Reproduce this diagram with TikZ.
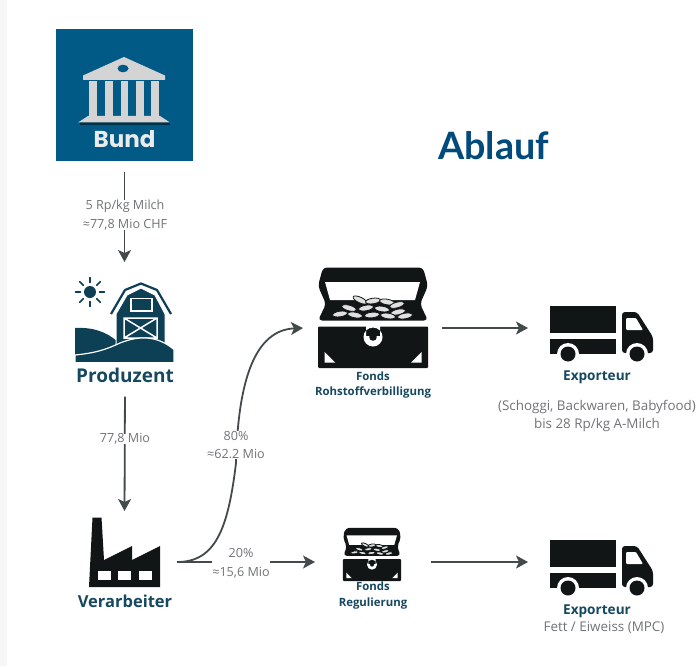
\documentclass[tikz,border=0pt]{standalone}
\usepackage{fontspec}
\setmainfont{Open Sans}
\newfontfamily\titlefont{Lato}
\newfontfamily\bundfont{Poppins}
\usetikzlibrary{arrows.meta}
\definecolor{bundblue}{HTML}{005A85}
\definecolor{titleblue}{HTML}{004A7C}
\definecolor{barndark}{HTML}{0D3F55}
\definecolor{iconblack}{HTML}{111516}
\definecolor{labelteal}{HTML}{16485F}
\definecolor{flowgrey}{HTML}{444A4C}
\definecolor{textgrey}{HTML}{707476}
\tikzset{
  x=1pt,y=-1pt,
  flow/.style={draw=flowgrey,line width=1.8pt,-{Stealth[length=12pt,width=13pt,inset=3pt]}},
  iconbox/.style={inner sep=0pt,outer sep=0pt},
  actor/.style={font=\bfseries\fontsize{16.5}{18}\selectfont,text=labelteal,inner sep=0pt},
  exportname/.style={font=\bfseries\fontsize{13.6}{15}\selectfont,text=labelteal,inner sep=0pt},
  fondsname/.style={font=\bfseries\fontsize{11.4}{15.5}\selectfont,text=labelteal,align=center,inner sep=0pt},
  flowlabel/.style={font=\fontsize{12.6}{18.5}\selectfont,text=textgrey,align=center,fill=white,inner sep=0pt},
  note/.style={font=\fontsize{13.4}{18}\selectfont,text=textgrey,align=center,inner sep=0pt},
  chesticon/.pic={
    \fill[iconblack,rounded corners=4pt] (-55,-31) -- (-50,-49.5) -- (50,-49.5) -- (55,-31) -- (47,-13) -- (55,3.5) -- (-55,3.5) -- (-47,-13) -- cycle;
    \fill[white] (-48,-35) -- (47,-35) -- (42,-17) -- (-43,-17) -- cycle;
    \foreach \cx/\cy/\rr in {-13/-17/-25,0/-16/8,14/-15/-10,24/-12/15,-24/-9/-15,-7/-9/10,9/-8/-8,25/-5/12,-33/-3/8,-18/-2/-10,-1/-2/6,15/-1/-8,32/-1/10}
      \filldraw[fill=white!88!black,draw=iconblack,line width=.8pt,rotate around={\rr:(\cx,\cy)}] (\cx,\cy) ellipse [x radius=7.5,y radius=2.8];
    \fill[iconblack,rounded corners=1pt] (-55,9.5) rectangle (55,51);
    \fill[white] (-7,9) rectangle (7,19) (0,20) circle [radius=9.5];
    \fill[iconblack] (0,20) circle [radius=3.8];
    \fill[white] (-48.5,35) -- (-38,45.5) -- (-48.5,45.5) -- cycle;
    \fill[white] (48.5,35) -- (38,45.5) -- (48.5,45.5) -- cycle;
  },
  truckicon/.pic={
    \fill[iconblack] (-52,-29) rectangle (14,-2);
    \fill[iconblack] (-52,4) rectangle (14,19);
    \fill[iconblack,rounded corners=3pt] (20,-23) -- (35,-23) -- (51,2) -- (51,18) -- (20,18) -- cycle;
    \fill[white,rounded corners=1pt] (24,-17) -- (34,-17) -- (41,-5) -- (24,-5) -- cycle;
    \fill[white] (-34,19) circle [radius=11] (35,19) circle [radius=11];
    \fill[iconblack] (-34,19) circle [radius=7.5] (35,19) circle [radius=7.5];
  }
}
\begin{document}
\begin{tikzpicture}
\useasboundingbox (0,0) rectangle (698,666);
\fill[white] (0,0) rectangle (698,666);
\fill[black!3] (0,0) rectangle (7,666);
% Bund
\node[fill=bundblue,minimum width=137pt,minimum height=132pt,inner sep=0pt,outer sep=0pt] (bund) at (124.5,95) {};
\fill[black!45!bundblue] (80,122) rectangle (170,125);
\fill[white!83!black] (124,57) -- (165,75.5) -- (165,80) -- (83,80) -- (83,75.5) -- cycle;
\fill[bundblue] (123,68.5) ellipse [x radius=5.5,y radius=3.8];
\foreach \cx in {93,109,124.5,140,155}
  \fill[white!83!black] (\cx-3.8,81) rectangle (\cx+3.8,117);
\fill[white!83!black] (88,116) -- (160,116) -- (170,122.5) -- (78,122.5) -- cycle;
\node[font=\bundfont\bfseries\fontsize{23}{25}\selectfont,text=white!92!black,inner sep=0pt] (bundtext) at (124.5,139) {Bund};
% Title
\node[font=\titlefont\bfseries\fontsize{37.7}{40}\selectfont,text=titleblue,inner sep=0pt] (title) at (493.5,146) {Ablauf};
% Produzent
\node[iconbox,minimum width=99pt,minimum height=85pt] (farm) at (124.5,320) {};
\fill[barndark] (90,292) circle [radius=6];
\foreach \a in {0,45,...,315}
  \draw[barndark,line width=1.6pt,line cap=round] (90,292) ++(\a:9.5) -- ++(\a:5);
\fill[barndark] (75,328) .. controls (93,327) and (107,332) .. (118,342) -- (118,362) -- (75,362) -- cycle;
\filldraw[fill=barndark,draw=white,line width=1pt] (116,345) -- (116,314) -- (127,295) -- (141,288) -- (155,295) -- (165,314) -- (165,345) -- cycle;
\draw[barndark,line width=2.2pt,line join=round] (111,314) -- (125,290) -- (141,283.5) -- (157,290) -- (171,314);
\draw[white,line width=1.5pt] (131,298.5) rectangle (152,311);
\draw[white,line width=1.5pt] (124,318) rectangle (157,338) (124,318) -- (157,338) (157,318) -- (124,338);
\filldraw[fill=barndark,draw=white,line width=1.2pt] (75,355) .. controls (95,353) and (105,350) .. (120,343) .. controls (140,335) and (158,336) .. (174,349.5) -- (174,363) -- (75,363) -- cycle;
\draw[white,line width=1.5pt] (73,363) -- (176,363);
\node[actor,font=\bfseries\fontsize{19}{21}\selectfont] (produzent) at (125,375) {Produzent};
% Verarbeiter
\node[iconbox,minimum width=71pt,minimum height=70pt] (factory) at (124.5,552) {};
\fill[iconblack] (89,587) -- (92.5,517.5) -- (101.5,517.5) -- (104,560) -- (132,546) -- (132,560) -- (160,546) -- (160,587) -- cycle;
\foreach \wx in {98,118,139}
  \fill[white] (\wx,571) rectangle (\wx+13,580);
\node[actor] (verarbeiter) at (125,601) {Verarbeiter};
% Fonds Rohstoffverbilligung
\node[iconbox,minimum width=111pt,minimum height=101pt] (chesta) at (373,317) {};
\pic at (373,317) {chesticon};
\node[fondsname] (fondsa) at (373,385) {Fonds\\Rohstoffverbilligung};
% Fonds Regulierung
\node[iconbox,minimum width=58pt,minimum height=54pt] (chestb) at (372,554) {};
\pic[scale=.53] at (372,554) {chesticon};
\node[fondsname] (fondsb) at (373,595.5) {Fonds\\Regulierung};
% Exporteur 1
\node[iconbox,minimum width=105pt,minimum height=58pt] (trucka) at (602,335) {};
\pic at (602,335) {truckicon};
\node[exportname] (expa) at (597,377) {Exporteur};
\node[note] (notea) at (597,416) {(Schoggi, Backwaren, Babyfood)\\bis 28 Rp/kg A-Milch};
% Exporteur 2
\node[iconbox,minimum width=105pt,minimum height=58pt] (truckb) at (602,569) {};
\pic at (602,569) {truckicon};
\node[exportname] (expb) at (597,611) {Exporteur};
\node[note] (noteb) at (604,628) {Fett / Eiweiss (MPC)};
% Connectors
\draw[flow,shorten <=11pt,shorten >=15.5pt] (bund.south) -- (farm.north);
\node[flowlabel] (la) at (125,215) {5 Rp/kg Milch\\≈77,8 Mio CHF};
\draw[flow,shorten <=14pt,shorten >=6pt] (produzent.south) -- (factory.north);
\node[flowlabel] (lb) at (125,439) {77,8 Mio};
\coordinate (split) at (177,562);
\draw[flow,shorten >=28pt] (split) -- (chestb.west |- split);
\node[flowlabel] (ld) at (241,563) {20\%\\≈15,6 Mio};
\draw[flow] (split) .. controls (215,562) and (228,530) .. (236,463) .. controls (238,380) and (255,330) .. ([shift={(-14.5,11)}]chesta.west);
\node[flowlabel] (lc) at (236,445) {80\%\\≈62.2 Mio};
\draw[flow] ([shift={(13.5,11)}]chesta.east) -- ([shift={(-21.5,-7)}]trucka.west);
\draw[flow] ([shift={(30,8)}]chestb.east) -- ([shift={(-21.5,-7)}]truckb.west);
\end{tikzpicture}
\end{document}
